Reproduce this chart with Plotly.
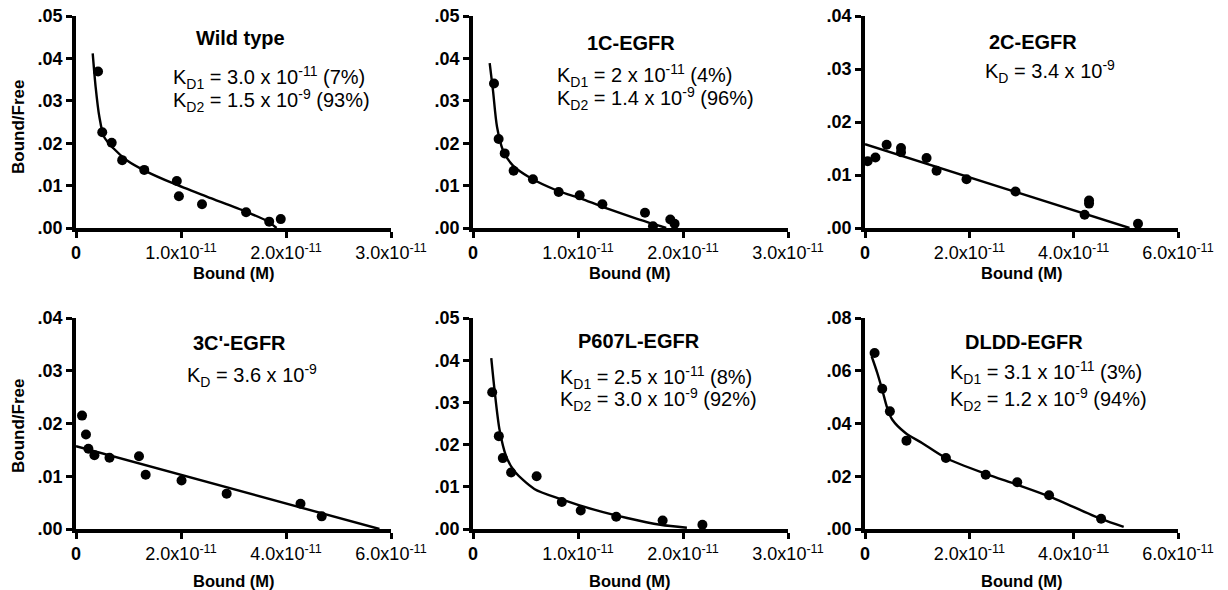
import plotly.graph_objects as go

FONT = "Liberation Sans, Arial, Helvetica, sans-serif"
W, H = 1228, 590

# ---------------- data (Bound in M, Bound/Free) ----------------
wt_x = [2.1e-12, 2.5e-12, 3.4e-12, 4.4e-12, 6.5e-12, 9.6e-12, 9.8e-12, 1.20e-11, 1.62e-11, 1.84e-11, 1.95e-11]
wt_y = [0.0369, 0.0226, 0.0201, 0.0160, 0.0137, 0.0111, 0.0075, 0.0056, 0.0037, 0.0015, 0.0021]
wt_fit_x = [1.59e-12, 1.87e-12, 2.22e-12, 2.67e-12, 3.56e-12, 4.83e-12, 6.73e-12, 9.27e-12, 1.245e-11, 1.619e-11, 1.816e-11, 1.91e-11]
wt_fit_y = [0.0412, 0.0333, 0.0263, 0.0215, 0.0188, 0.0160, 0.0133, 0.0105, 0.0074, 0.00385, 0.0017, 0.0]

c1_x = [2.0e-12, 2.44e-12, 3.02e-12, 3.87e-12, 5.71e-12, 8.16e-12, 1.016e-11, 1.232e-11, 1.638e-11, 1.714e-11, 1.879e-11, 1.92e-11]
c1_y = [0.0341, 0.0210, 0.0176, 0.0135, 0.0115, 0.0085, 0.0077, 0.0056, 0.0036, 0.0004, 0.0020, 0.0010]
c1_fit_x = [1.59e-12, 1.90e-12, 2.29e-12, 2.86e-12, 3.81e-12, 5.40e-12, 7.94e-12, 1.048e-11, 1.302e-11, 1.556e-11, 1.81e-11, 1.84e-11]
c1_fit_y = [0.0389, 0.0325, 0.0238, 0.0183, 0.0147, 0.0119, 0.0089, 0.00675, 0.00437, 0.00222, 0.00024, 0.0]

c2_x = [0.5e-12, 2.0e-12, 4.15e-12, 6.9e-12, 6.9e-12, 1.18e-11, 1.372e-11, 1.946e-11, 2.885e-11, 4.21e-11, 4.295e-11, 4.295e-11, 5.233e-11]
c2_y = [0.0126, 0.0133, 0.0157, 0.0151, 0.0143, 0.0132, 0.0108, 0.0092, 0.0069, 0.0025, 0.0052, 0.0046, 0.0008]
c2_fit_x = [0.0, 5.07e-11]
c2_fit_y = [0.0158, 0.0]

c3_x = [1.15e-12, 1.9e-12, 2.36e-12, 3.51e-12, 6.38e-12, 1.20e-11, 1.327e-11, 2.01e-11, 2.87e-11, 4.276e-11, 4.68e-11]
c3_y = [0.0215, 0.0179, 0.0152, 0.0140, 0.0135, 0.0138, 0.0103, 0.0092, 0.0067, 0.0048, 0.0024]
c3_fit_x = [0.0, 5.78e-11]
c3_fit_y = [0.0157, 0.0]

p6_x = [1.83e-12, 2.46e-12, 2.84e-12, 3.63e-12, 6.06e-12, 8.46e-12, 1.026e-11, 1.364e-11, 1.806e-11, 2.185e-11]
p6_y = [0.0324, 0.0220, 0.0168, 0.0134, 0.0125, 0.0064, 0.0044, 0.0029, 0.0020, 0.0010]
p6_fit_x = [1.74e-12, 2.05e-12, 2.53e-12, 3.16e-12, 3.95e-12, 5.84e-12, 8.37e-12, 1.153e-11, 1.468e-11, 1.784e-11, 2.037e-11]
p6_fit_y = [0.0405, 0.0330, 0.0235, 0.0172, 0.0137, 0.0095, 0.0071, 0.00458, 0.0026, 0.0010, 0.0003]

dl_x = [1.84e-12, 3.3e-12, 4.77e-12, 7.95e-12, 1.551e-11, 2.314e-11, 2.918e-11, 3.528e-11, 4.526e-11]
dl_y = [0.0667, 0.0532, 0.0446, 0.0335, 0.0269, 0.0206, 0.0177, 0.0128, 0.0039]
dl_fit_x = [1.27e-12, 2.35e-12, 3.3e-12, 4.26e-12, 5.21e-12, 7.76e-12, 1.093e-11, 1.551e-11, 2.314e-11, 2.918e-11, 3.528e-11, 4.526e-11, 4.959e-11]
dl_fit_y = [0.0655, 0.0592, 0.0528, 0.0459, 0.0415, 0.0364, 0.0326, 0.0269, 0.0209, 0.0168, 0.0124, 0.0038, 0.0008]

titles = ["Wild type", "1C-EGFR", "2C-EGFR", "3C'-EGFR", "P607L-EGFR", "DLDD-EGFR"]
kd_lines = [
    ["K<sub>D1</sub> = 3.0 x 10<sup>-11</sup> (7%)", "K<sub>D2</sub> = 1.5 x 10<sup>-9</sup> (93%)"],
    ["K<sub>D1</sub> = 2 x 10<sup>-11</sup> (4%)", "K<sub>D2</sub> = 1.4 x 10<sup>-9</sup> (96%)"],
    ["K<sub>D</sub> = 3.4 x 10<sup>-9</sup>"],
    ["K<sub>D</sub> = 3.6 x 10<sup>-9</sup>"],
    ["K<sub>D1</sub> = 2.5 x 10<sup>-11</sup> (8%)", "K<sub>D2</sub> = 3.0 x 10<sup>-9</sup> (92%)"],
    ["K<sub>D1</sub> = 3.1 x 10<sup>-11</sup> (3%)", "K<sub>D2</sub> = 1.2 x 10<sup>-9</sup> (94%)"],
]

x_ticks_30 = [0, 1e-11, 2e-11, 3e-11]
x_text_30 = ["<b>0</b>", "1.0x10<sup>-11</sup>", "2.0x10<sup>-11</sup>", "3.0x10<sup>-11</sup>"]
x_ticks_60 = [0, 2e-11, 4e-11, 6e-11]
x_text_60 = ["<b>0</b>", "2.0x10<sup>-11</sup>", "4.0x10<sup>-11</sup>", "6.0x10<sup>-11</sup>"]
y_ticks_05 = [0, 0.01, 0.02, 0.03, 0.04, 0.05]
y_text_05 = ["<b>.00</b>", "<b>.01</b>", "<b>.02</b>", "<b>.03</b>", "<b>.04</b>", "<b>.05</b>"]
y_ticks_04 = [0, 0.01, 0.02, 0.03, 0.04]
y_text_04 = ["<b>.00</b>", "<b>.01</b>", "<b>.02</b>", "<b>.03</b>", "<b>.04</b>"]
y_ticks_08 = [0, 0.02, 0.04, 0.06, 0.08]
y_text_08 = ["<b>.00</b>", "<b>.02</b>", "<b>.04</b>", "<b>.06</b>", "<b>.08</b>"]

panels = [
    (wt_x, wt_y, wt_fit_x, wt_fit_y, x_ticks_30, x_text_30, y_ticks_05, y_text_05),
    (c1_x, c1_y, c1_fit_x, c1_fit_y, x_ticks_30, x_text_30, y_ticks_05, y_text_05),
    (c2_x, c2_y, c2_fit_x, c2_fit_y, x_ticks_60, x_text_60, y_ticks_04, y_text_04),
    (c3_x, c3_y, c3_fit_x, c3_fit_y, x_ticks_60, x_text_60, y_ticks_04, y_text_04),
    (p6_x, p6_y, p6_fit_x, p6_fit_y, x_ticks_30, x_text_30, y_ticks_05, y_text_05),
    (dl_x, dl_y, dl_fit_x, dl_fit_y, x_ticks_60, x_text_60, y_ticks_08, y_text_08),
]

# ---------------- layout geometry (pixels) ----------------
col_px = [(76, 391), (473, 788), (865, 1178)]
row_px = [(16, 228), (318, 529)]
title_pos = [(240, 38), (631, 43), (1033, 42), (239, 343), (639, 341), (1024, 342)]
kd_pos = [(171, 77, 100), (555, 75, 98), (983, 72, None), (185, 375, None), (558, 377, 399), (948, 372, 399)]


def px(x):
    return x / W


def py(y):
    return 1 - y / H


fig = go.Figure()
layout = {}
annotations = []

for i, (sx, sy, fx, fy, xt, xtt, yt, ytt) in enumerate(panels):
    r, c = divmod(i, 3)
    n = "" if i == 0 else str(i + 1)
    xa, ya = "x" + n, "y" + n
    fig.add_trace(go.Scatter(x=fx, y=fy, mode="lines", xaxis=xa, yaxis=ya,
                             line=dict(color="black", width=2.4, shape="spline", smoothing=0.8),
                             cliponaxis=False, showlegend=False, hoverinfo="skip"))
    fig.add_trace(go.Scatter(x=sx, y=sy, mode="markers", xaxis=xa, yaxis=ya,
                             marker=dict(color="black", size=10),
                             cliponaxis=False, showlegend=False))
    common = dict(showgrid=False, zeroline=False, showline=True, linecolor="black", linewidth=3.5,
                  ticks="outside", ticklen=6, tickwidth=3, tickcolor="black", automargin=False,
                  tickmode="array")
    layout["xaxis" + n] = dict(common, domain=[px(col_px[c][0]), px(col_px[c][1])],
                               range=[xt[0], xt[-1]], tickvals=xt, ticktext=xtt, anchor=ya,
                               tickfont=dict(family=FONT, size=18, color="black"))
    layout["yaxis" + n] = dict(common, domain=[py(row_px[r][1]), py(row_px[r][0])],
                               range=[yt[0], yt[-1]], tickvals=yt, ticktext=ytt, anchor=xa,
                               tickfont=dict(family=FONT, size=18, color="black"))
    tx, ty = title_pos[i]
    annotations.append(dict(text="<b>" + titles[i] + "</b>", x=px(tx), y=py(ty), xref="paper", yref="paper",
                            xanchor="center", yanchor="middle", showarrow=False,
                            font=dict(family=FONT, size=20, color="black")))
    kx, ky1, ky2 = kd_pos[i]
    for line, yy in zip(kd_lines[i], [ky1, ky2]):
        annotations.append(dict(text=line, x=px(kx), y=py(yy), xref="paper", yref="paper",
                                xanchor="left", yanchor="middle", showarrow=False,
                                font=dict(family=FONT, size=20, color="black")))
    # x-axis title
    annotations.append(dict(text="<b>Bound (M)</b>", x=px((col_px[c][0] + col_px[c][1]) / 2),
                            y=py(273 if r == 0 else 581), xref="paper", yref="paper",
                            xanchor="center", yanchor="middle", showarrow=False,
                            font=dict(family=FONT, size=16.5, color="black")))
    if c == 0:
        annotations.append(dict(text="<b>Bound/Free</b>", x=px(18), y=py(127 if r == 0 else 426),
                                xref="paper", yref="paper", xanchor="center", yanchor="middle",
                                textangle=-90, showarrow=False,
                                font=dict(family=FONT, size=17, color="black")))

fig.update_layout(**layout)
fig.update_layout(width=W, height=H, margin=dict(l=0, r=0, t=0, b=0, autoexpand=False),
                  paper_bgcolor="white", plot_bgcolor="white",
                  annotations=annotations, showlegend=False)

fig.write_html("out.html", config={"displayModeBar": False},
               post_script="document.body.style.margin='0';document.body.style.padding='0';"
                           "document.body.style.overflow='hidden';")
